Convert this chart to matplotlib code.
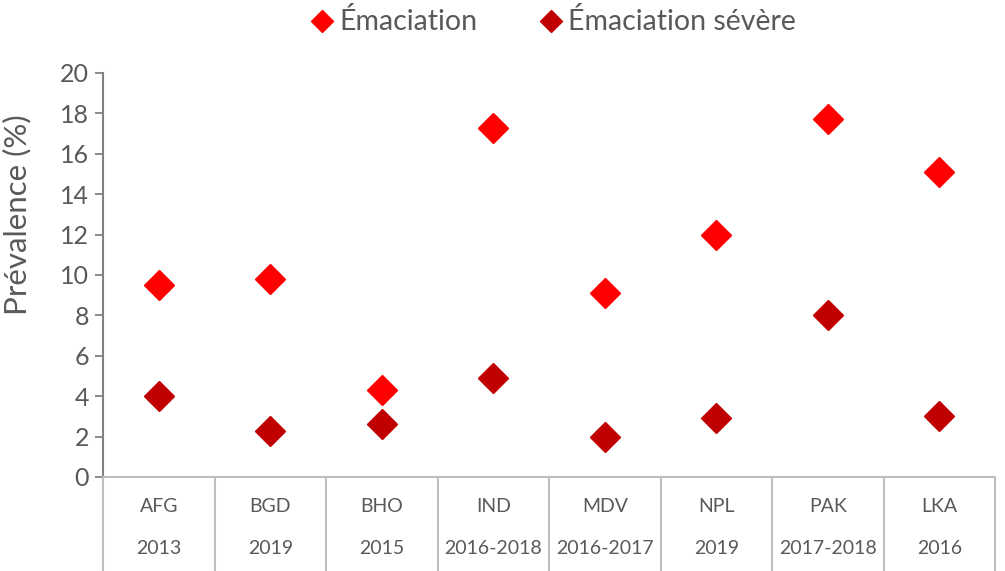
import matplotlib
matplotlib.use("Agg")
import matplotlib.pyplot as plt
from matplotlib.transforms import blended_transform_factory
from matplotlib.lines import Line2D

plt.rcParams['font.family'] = ['Lato', 'DejaVu Sans']

countries = ["AFG", "BGD", "BHO", "IND", "MDV", "NPL", "PAK", "LKA"]
years = ["2013", "2019", "2015", "2016-2018", "2016-2017", "2019", "2017-2018", "2016"]
emaciation = [9.5, 9.8, 4.3, 17.3, 9.1, 12.0, 17.7, 15.1]
emaciation_severe = [4.0, 2.3, 2.6, 4.9, 2.0, 2.9, 8.0, 3.0]

text_color = "#595959"
fig = plt.figure(figsize=(10.05, 5.71), dpi=100)
ax = fig.add_axes([103/1005, 1-477/571, (995-103)/1005, (477-73)/571])

x = list(range(len(countries)))
ax.plot(x, emaciation, linestyle='none', marker='D', markersize=15.5,
        color='#FF0000', label='Émaciation')
ax.plot(x, emaciation_severe, linestyle='none', marker='D', markersize=15.5,
        color='#C00000', label='Émaciation sévère')

ax.set_xlim(-0.5, len(countries) - 0.5)
ax.set_ylim(0, 20)
ax.set_yticks(range(0, 21, 2))
ax.tick_params(axis='y', direction='out', length=6, width=1.3, color='#808080',
               labelcolor=text_color, labelsize=18, pad=4)
ax.set_xticks([])
for s in ['top', 'right']:
    ax.spines[s].set_visible(False)
ax.spines['left'].set_color('#808080')
ax.spines['left'].set_linewidth(1.5)
ax.spines['bottom'].set_color('#BFBFBF')
ax.spines['bottom'].set_linewidth(1.5)

ax.set_ylabel("Prévalence (%)", fontsize=22.5, color=text_color)
ax.yaxis.set_label_coords((17 - 103) / 892, (477 - 215) / 404)
ax.yaxis.label.set_va('center')

# Multi-level category axis
tr = blended_transform_factory(ax.transData, fig.transFigure)
y0 = 1 - 477/571
for i in range(len(countries) + 1):
    xi = i - 0.5
    ax.add_line(Line2D([xi, xi], [y0, 0], transform=tr, color='#BFBFBF',
                       linewidth=1.5, clip_on=False))
for i, (c, yr) in enumerate(zip(countries, years)):
    ax.text(i, 1 - 506/571, c, transform=tr, ha='center', va='center',
            fontsize=14, color=text_color)
    ax.text(i, 1 - 549/571, yr, transform=tr, ha='center', va='center',
            fontsize=14, color=text_color)

fig.legend(loc='center', bbox_to_anchor=(552/1005, 1 - 22/571), ncol=2,
           frameon=False, fontsize=20.5, labelcolor=text_color,
           markerscale=0.75, handletextpad=0.1, columnspacing=2.1,
           handlelength=1.0)

fig.savefig("out.png", dpi=100)
